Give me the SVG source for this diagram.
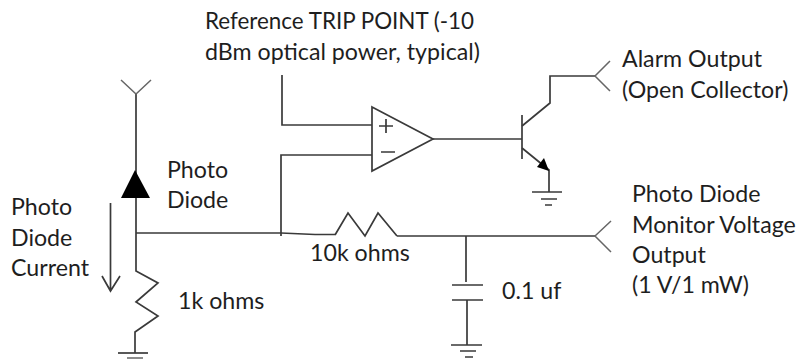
<svg xmlns="http://www.w3.org/2000/svg" width="796" height="362" viewBox="0 0 796 362">
<style>
.w{fill:none;stroke:#3a3a3a;stroke-width:1.7;stroke-linejoin:miter}
.g{fill:none;stroke:#666;stroke-width:1.5}
.f{fill:#000;stroke:none}
text{font-family:"Lato","Open Sans",sans-serif;font-size:23.200px;fill:#1e1e1e}
</style>
<rect width="796" height="362" fill="#fff"/>
<g id="connectors">
<path class="w" d="M136 94V233M136 233H281L315 234.500H335M397 236H595M136 233V250"/>
<path class="w" d="M282 75V125H372M281 236V155H372"/>
<path class="w" d="M433 139H522"/>
<path class="w" d="M522 126L550 103V76H595"/>
<path class="w" d="M522 148L549 170V192"/>
<path class="w" d="M466 236V282M467 300V345"/>
<path class="w" d="M110.500 203V291M102 276L110.500 291L120 276"/>
</g>
<g id="antenna-top"><path class="g" d="M121 80L136 94L151 80"/></g>
<g id="photo-diode"><polygon class="f" points="135,170 150,198 121,198"/></g>
<g id="resistor-1k"><path class="w" d="M136 250V271L158 283L136 302L158 316L135 332V353"/></g>
<g id="ground-1"><path class="w" d="M118 353H148"/><path class="g" d="M127 358H143" stroke-width="2"/></g>
<g id="resistor-10k"><path class="w" d="M335 235L348 213L365 236L378 213L397 236"/></g>
<g id="capacitor"><path class="w" d="M452 285H483M452 300H483"/></g>
<g id="ground-2"><path class="w" d="M451 345H482M460 351H476M465 357H473"/></g>
<g id="opamp"><polygon class="w" points="372,107 433,139 372,171"/><path class="w" d="M379 126H393M386 119V133M381 152H395"/></g>
<g id="transistor"><path class="w" d="M522 115V159"/><polygon class="f" points="549,171 537,167 544,158"/></g>
<g id="ground-3"><path class="w" d="M532 192H562M541 199H557M545 205H552"/></g>
<g id="output-alarm"><path class="g" d="M610 61L595 76L610 91"/></g>
<g id="output-monitor"><path class="g" d="M611 221L595 236L611 252"/></g>
<g id="labels">
<text x="205" y="29" textLength="269" lengthAdjust="spacingAndGlyphs">Reference TRIP POINT (-10</text>
<text x="205" y="60">dBm optical power, typical)</text>
<text x="622" y="67">Alarm Output</text>
<text x="622" y="98">(Open Collector)</text>
<text x="167" y="178">Photo</text>
<text x="167" y="208">Diode</text>
<text x="11" y="215">Photo</text>
<text x="11" y="246">Diode</text>
<text x="11" y="276">Current</text>
<text x="178" y="309">1k ohms</text>
<text x="310" y="261">10k ohms</text>
<text x="502" y="299">0.1 uf</text>
<text x="632" y="202">Photo Diode</text>
<text x="632" y="233">Monitor Voltage</text>
<text x="632" y="263">Output</text>
<text x="632" y="293">(1 V/1 mW)</text>
</g>
</svg>
